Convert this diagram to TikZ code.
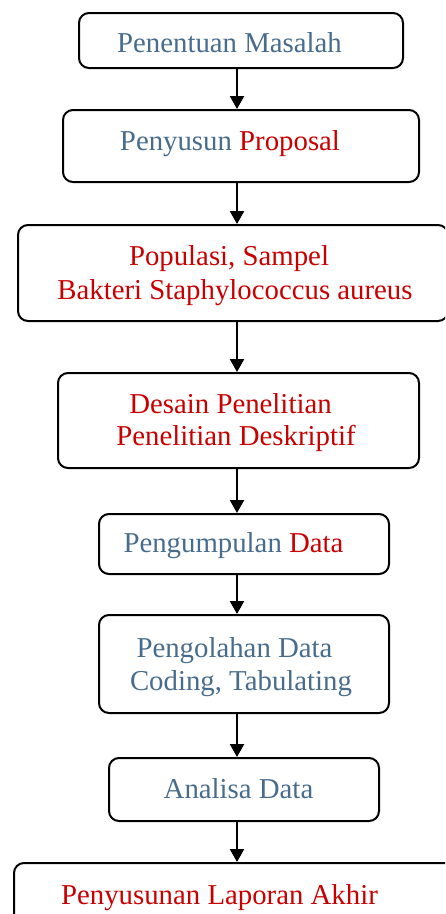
\documentclass[tikz,border=0pt]{standalone}
\usepackage{fontspec}
\setmainfont{Liberation Serif}
\usetikzlibrary{arrows.meta}
\definecolor{bluetxt}{RGB}{72,108,140}
\definecolor{redtxt}{RGB}{200,0,0}
\begin{document}
\begin{tikzpicture}[x=1pt,y=-1pt,
  box/.style={draw=black,line width=2pt,rounded corners=10pt,inner sep=0pt,anchor=north west},
  txt/.style={anchor=base,inner sep=0pt,font=\fontsize{28.8}{34}\selectfont},
  arr/.style={line width=2.4pt,-{Triangle[length=13pt,width=14pt]}}]
\useasboundingbox (0,0) rectangle (445,914);
\clip (0,0) rectangle (445,914);
% boxes
\node[box,minimum width=324pt,minimum height=55pt] (b1) at (78,12) {};
\node[box,minimum width=356pt,minimum height=72pt] (b2) at (62,109) {};
\node[box,minimum width=430pt,minimum height=96pt] (b3) at (17,224) {};
\node[box,minimum width=361pt,minimum height=95pt] (b4) at (57,372) {};
\node[box,minimum width=290pt,minimum height=60pt] (b5) at (98,513) {};
\node[box,minimum width=290pt,minimum height=98pt] (b6) at (98,614) {};
\node[box,minimum width=270pt,minimum height=63pt] (b7) at (108,757) {};
\node[box,minimum width=450pt,minimum height=90pt] (b8) at (13,862) {};
% texts
\node[txt,text=bluetxt] (t1) at (229.5,52) {Penentuan Masalah};
\node[txt] (t2) at (230,150) {\textcolor{bluetxt}{Penyusun} \textcolor{redtxt}{Proposal}};
\node[txt,text=redtxt] (t3a) at (229,265) {Populasi, Sampel};
\node[txt,text=redtxt] (t3b) at (235,299) {Bakteri Staphylococcus aureus};
\node[txt,text=redtxt] (t4a) at (230.5,413) {Desain Penelitian};
\node[txt,text=redtxt] (t4b) at (236,445) {Penelitian Deskriptif};
\node[txt] (t5) at (233.5,552) {\textcolor{bluetxt}{Pengumpulan} \textcolor{redtxt}{Data}};
\node[txt,text=bluetxt] (t6a) at (234.5,657) {Pengolahan Data};
\node[txt,text=bluetxt] (t6b) at (241,690) {Coding, Tabulating};
\node[txt,text=bluetxt] (t7) at (238.5,798) {Analisa Data};
\node[txt,text=redtxt] (t8) at (219.5,904) {Penyusunan Laporan Akhir};
% arrows
\coordinate (ax) at (237,0);
\draw[arr] (b1.south -| ax) -- (b2.north -| ax);
\draw[arr] (b2.south -| ax) -- (b3.north -| ax);
\draw[arr] (b3.south -| ax) -- (b4.north -| ax);
\draw[arr] (b4.south -| ax) -- (b5.north -| ax);
\draw[arr] (b5.south -| ax) -- (b6.north -| ax);
\draw[arr] (b6.south -| ax) -- (b7.north -| ax);
\draw[arr] (b7.south -| ax) -- (b8.north -| ax);
\end{tikzpicture}
\end{document}
